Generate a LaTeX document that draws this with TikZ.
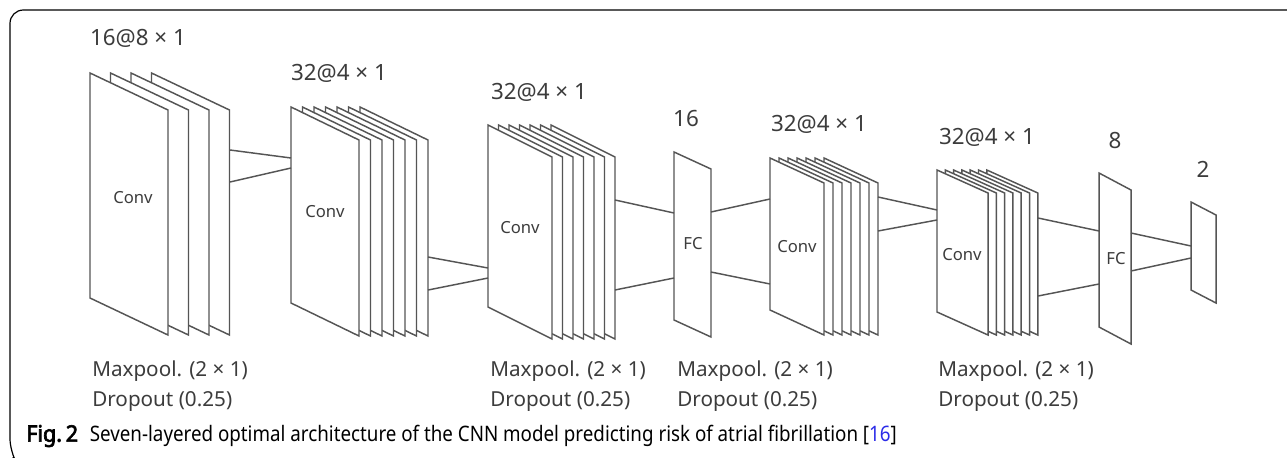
\documentclass[tikz,border=0pt]{standalone}
\usepackage{fontspec}
\setmainfont{Noto Sans}
\newfontfamily\capfont[FakeStretch=0.88]{Noto Sans}
\newfontfamily\capbold[FakeStretch=0.95,FakeBold=3]{Noto Sans}
\definecolor{linegray}{HTML}{555555}
\definecolor{textgray}{HTML}{3C3C3C}
\definecolor{reflink}{HTML}{2B2BE8}
\tikzset{sheet/.style={draw=linegray,fill=white,line width=1.1pt},
  link/.style={draw=linegray,line width=1.1pt},
  size label/.style={text=textgray,inner sep=0pt,font=\fontsize{16.8}{18}\selectfont},
  layer label/.style={text=textgray,inner sep=0pt,font=\fontsize{12.5}{14}\selectfont},
  pool label/.style={text=textgray,inner sep=0pt,anchor=north west,align=left,font=\fontsize{15.5}{22.5}\selectfont},}
% stack of sheets: name, x, y, width, skew, height, last index, offset
\newcommand{\sheetstack}[8]{%
  \foreach \i in {#7,...,0}
    \draw[sheet] (#2+\i*#8,#3) -- ++(#4,#5) -- ++(0,#6) -- ++(-#4,-#5) -- cycle;
  \coordinate (#1) at (#2,#3);}

\begin{document}
\begin{tikzpicture}[x=0.75pt,y=-0.75pt]
  \useasboundingbox (0,0) rectangle (1287,457);
  \draw[black,line width=0.9pt,rounded corners=10] (1287,10) -- (10,10) -- (10,452) -- (13,457);
  %% Layers
  \sheetstack{conv1}{90}{73}{78}{37}{225}{3}{20.5}
  \sheetstack{conv2}{291}{107}{68}{33}{196}{6}{11.5}
  \sheetstack{conv3}{488}{125}{64}{32}{182}{6}{10.5}
  \sheetstack{fc1}{674}{152}{37}{17}{168}{0}{0}
  \sheetstack{conv4}{770}{158}{54}{25}{152}{6}{9}
  \sheetstack{conv5}{937}{170}{51}{23}{142}{6}{8.3}
  \sheetstack{fc2}{1099}{173}{32}{17}{154}{0}{0}
  \sheetstack{out}{1191}{202}{25}{13}{88}{0}{0}
  %% Link ends
  \coordinate (conv1-o1) at (230,150);  \coordinate (conv1-o2) at (230,182);
  \coordinate (conv2-i1) at (291,158);  \coordinate (conv2-i2) at (291,168);
  \coordinate (conv2-o1) at (428,257);  \coordinate (conv2-o2) at (428,290);
  \coordinate (conv3-i1) at (488,268);  \coordinate (conv3-i2) at (488,278);
  \coordinate (conv3-o1) at (615,200);  \coordinate (conv3-o2) at (615,290);
  \coordinate (fc1-i1) at (674,213);    \coordinate (fc1-i2) at (674,278);
  \coordinate (fc1-o1) at (711,212);    \coordinate (fc1-o2) at (711,272);
  \coordinate (conv4-i1) at (770,199);  \coordinate (conv4-i2) at (770,284);
  \coordinate (conv4-o1) at (878,197);  \coordinate (conv4-o2) at (878,231);
  \coordinate (conv5-i1) at (937,210);  \coordinate (conv5-i2) at (937,220);
  \coordinate (conv5-o1) at (1038,218); \coordinate (conv5-o2) at (1038,296);
  \coordinate (fc2-i1) at (1099,231);   \coordinate (fc2-i2) at (1099,284);
  \coordinate (fc2-o1) at (1131,233);   \coordinate (fc2-o2) at (1131,271);
  \coordinate (out-i1) at (1191,246);   \coordinate (out-i2) at (1191,258);
  %% Paths
  \path[link]
    (conv1-o1) edge (conv2-i1)  (conv1-o2) edge (conv2-i2)
    (conv2-o1) edge (conv3-i1)  (conv2-o2) edge (conv3-i2)
    (conv3-o1) edge (fc1-i1)    (conv3-o2) edge (fc1-i2)
    (fc1-o1) edge (conv4-i1)    (fc1-o2) edge (conv4-i2)
    (conv4-o1) edge (conv5-i1)  (conv4-o2) edge (conv5-i2)
    (conv5-o1) edge (fc2-i1)    (conv5-o2) edge (fc2-i2)
    (fc2-o1) edge (out-i1)      (fc2-o2) edge (out-i2);
  %% Labels
  \node[size label] (conv1-size) at (138,38) {16@8 × 1};
  \node[size label] (conv2-size) at (339,73) {32@4 × 1};
  \node[size label] (conv3-size) at (539,92) {32@4 × 1};
  \node[size label] (fc1-size) at (686,118) {16};
  \node[size label] (conv4-size) at (819,124) {32@4 × 1};
  \node[size label] (conv5-size) at (987,137) {32@4 × 1};
  \node[size label] (fc2-size) at (1115,140) {8};
  \node[size label] (out-size) at (1203,169) {2};
  \node[layer label] (conv1-name) at (133,198) {Conv};
  \node[layer label] (conv2-name) at (325,212) {Conv};
  \node[layer label] (conv3-name) at (520,228) {Conv};
  \node[layer label] (fc1-name) at (693,244) {FC};
  \node[layer label] (conv4-name) at (797,247) {Conv};
  \node[layer label] (conv5-name) at (962,255) {Conv};
  \node[layer label] (fc2-name) at (1116,259) {FC};
  \node[pool label] (pool1) at (92,361) {Maxpool. (2 × 1)\\Dropout (0.25)};
  \node[pool label] (pool3) at (490,361) {Maxpool. (2 × 1)\\Dropout (0.25)};
  \node[pool label] (pool4) at (677,361) {Maxpool. (2 × 1)\\Dropout (0.25)};
  \node[pool label] (pool6) at (938,361) {Maxpool. (2 × 1)\\Dropout (0.25)};
  \node[anchor=west,inner sep=0pt,font=\capfont\fontsize{16}{18}\selectfont] (caption) at (26,436)
    {{\capbold\fontsize{17}{18}\selectfont Fig.\,2}\hspace{0.55em}Seven-layered optimal architecture of the CNN model predicting risk of atrial fibrillation [\textcolor{reflink}{16}]};
\end{tikzpicture}
\end{document}
